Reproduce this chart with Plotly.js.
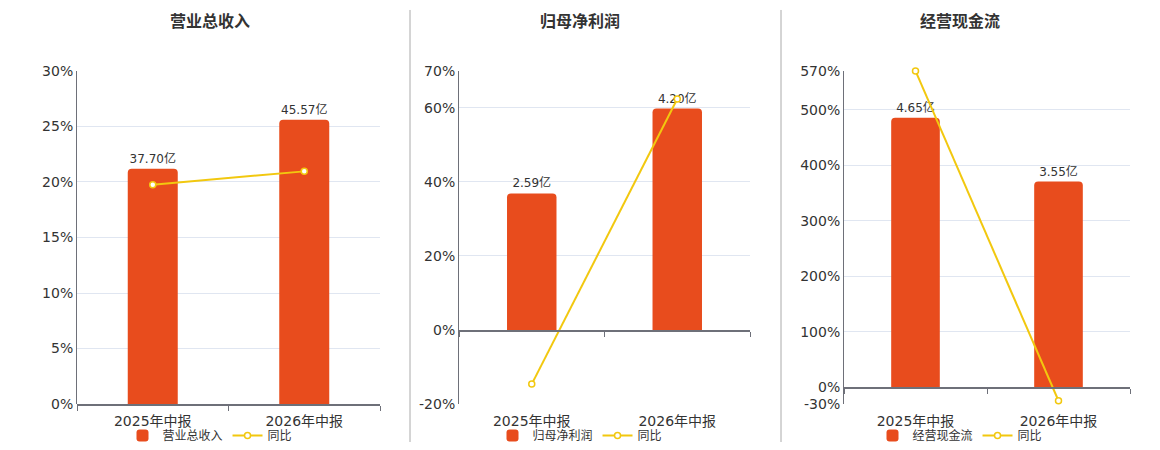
<!DOCTYPE html>
<html>
<head>
<meta charset="utf-8">
<script src="https://cdn.plot.ly/plotly-3.0.1.min.js"></script>
<style>
    html, body { margin: 0; padding: 0; background: #fff; }
    #chart { width: 1160px; height: 450px; }
</style>
</head>
<body>
<div id="chart"></div>
<script>
// ==== DATA ==================================================================

// Categories (report periods).
const categories = ["2025年中报", "2026年中报"];

// Amounts in 亿 and year-on-year change in %.
const revenue = [37.70, 45.57];
const revenueYoy = [19.75, 20.95];
const profit = [2.59, 4.20];
const profitYoy = [-14.6, 62.4];
const cashflow = [4.65, 3.55];
const cashflowYoy = [569.8, -24.0];

// Percent-axis tick values for each panel.
const revenueTicks = [0, 5, 10, 15, 20, 25, 30];
const profitTicks = [-20, 0, 20, 40, 60, 70];
const cashflowTicks = [-30, 0, 100, 200, 300, 400, 500, 570];

const titles = ["营业总收入", "归母净利润", "经营现金流"];
const yoyName = "同比";
const unit = "亿";

// ==== STYLE =================================================================

const W = 1160, H = 450;
const FONT = "DejaVu Sans, Noto Sans CJK SC, sans-serif";
const BAR_COLOR = "#e84c1d";
const LINE_COLOR = "#f2c80f";
const AXIS_COLOR = "#6e7079";
const GRID_COLOR = "#e0e6f1";
const TEXT_COLOR = "#333";

// Plot area, in pixels of the window.
const plotTop = 71, plotBottom = 405;
const yDomain = [1 - plotBottom / H, 1 - plotTop / H];

// Per panel: data, ticks, pixel span of the plot, centre of title/legend,
// and the bar-axis value that sits at the top of the plot.
const panels = [
    { title: titles[0], bars: revenue, yoy: revenueYoy, ticks: revenueTicks,
      span: [77, 380], centre: 210, barTop: 53.4, barWidth: 0.33 },
    { title: titles[1], bars: profit, yoy: profitYoy, ticks: profitTicks,
      span: [459, 750], centre: 580, barTop: 4.916, barWidth: 0.34 },
    { title: titles[2], bars: cashflow, yoy: cashflowYoy, ticks: cashflowTicks,
      span: [844, 1130], centre: 960, barTop: 5.459, barWidth: 0.34 },
];

// Axis ids: "x", "x2" ... and the layout keys "xaxis", "xaxis2" ...
const axisId = (letter, n) => (n === 1 ? letter : letter + n);
const axisKey = (letter, n) => letter + "axis" + (n === 1 ? "" : n);

// ==== BUILD =================================================================

const traces = [];
const layout = {
    width: W,
    height: H,
    margin: { l: 0, r: 0, t: 0, b: 0 },
    paper_bgcolor: "#fff",
    plot_bgcolor: "rgba(0,0,0,0)",
    font: { family: FONT, color: TEXT_COLOR },
    showlegend: true,
    annotations: [],
    shapes: [],
};

panels.forEach((p, i) => {
    const n = i + 1;
    const xId = axisId("x", n);
    // Extra x axis (line + boundary ticks) drawn at the zero of the panel.
    const zeroX = n + 3;
    const barY = 2 * i + 1;
    const pctY = 2 * i + 2;
    const legendId = axisId("legend", n);

    const pMin = p.ticks[0];
    const pMax = p.ticks[p.ticks.length - 1];
    // Bar axis shares the zero with the percent axis.
    const k = p.barTop / pMax;
    const barRange = [pMin * k, pMax * k];

    // Where zero lies, as paper fraction.
    const zeroFrac = (0 - pMin) / (pMax - pMin);

    traces.push({
        type: "bar",
        name: p.title,
        x: categories,
        y: p.bars,
        text: p.bars.map((v) => v.toFixed(2) + unit),
        textposition: "outside",
        textfont: { size: 12, color: TEXT_COLOR, family: FONT },
        cliponaxis: false,
        width: p.barWidth,
        marker: { color: BAR_COLOR, cornerradius: 4 },
        xaxis: xId,
        yaxis: axisId("y", barY),
        legend: legendId,
        hoverinfo: "skip",
    });

    traces.push({
        type: "scatter",
        mode: "lines+markers",
        name: yoyName,
        x: categories,
        y: p.yoy,
        line: { color: LINE_COLOR, width: 2 },
        marker: { symbol: "circle", size: 6, color: "#fff",
                  line: { color: LINE_COLOR, width: 1.5 } },
        cliponaxis: false,
        xaxis: xId,
        yaxis: axisId("y", pctY),
        legend: legendId,
        hoverinfo: "skip",
    });

    // Empty trace so that the zero-line axis gets its own subplot.
    traces.push({
        type: "scatter",
        x: [],
        y: [],
        xaxis: axisId("x", zeroX),
        yaxis: axisId("y", barY),
        showlegend: false,
        hoverinfo: "skip",
    });

    // Category axis with the labels, at the bottom of the plot.
    layout[axisKey("x", n)] = {
        domain: [p.span[0] / W, p.span[1] / W],
        anchor: "free",
        position: yDomain[0] - 7 / H,
        type: "category",
        range: [-0.5, 1.5],
        showline: false,
        ticks: "",
        tickfont: { size: 14, color: TEXT_COLOR },
        showgrid: false,
        zeroline: false,
        fixedrange: true,
    };

    // Axis line and boundary ticks, on the zero of the percent axis.
    layout[axisKey("x", zeroX)] = {
        overlaying: xId,
        anchor: "free",
        position: yDomain[0] + zeroFrac * (yDomain[1] - yDomain[0]),
        type: "linear",
        range: [-0.5, 1.5],
        tickvals: [-0.5, 0.5, 1.5],
        showticklabels: false,
        showline: true,
        linecolor: AXIS_COLOR,
        linewidth: 1.5,
        ticks: "outside",
        ticklen: 5,
        tickcolor: AXIS_COLOR,
        showgrid: false,
        zeroline: false,
        fixedrange: true,
    };

    layout[axisKey("y", barY)] = {
        domain: yDomain,
        anchor: xId,
        range: barRange,
        visible: false,
        fixedrange: true,
    };

    layout[axisKey("y", pctY)] = {
        anchor: xId,
        overlaying: axisId("y", barY),
        side: "left",
        range: [pMin, pMax],
        tickvals: p.ticks,
        ticktext: p.ticks.map((v) => v + "%"),
        tickfont: { size: 14, color: TEXT_COLOR },
        ticks: "",
        showgrid: true,
        gridcolor: GRID_COLOR,
        gridwidth: 1,
        zeroline: false,
        showline: true,
        linecolor: AXIS_COLOR,
        linewidth: 1,
        fixedrange: true,
    };

    layout[legendId] = {
        orientation: "h",
        x: p.centre / W,
        xanchor: "center",
        y: 1 - 436 / H,
        yanchor: "middle",
        font: { size: 12, color: TEXT_COLOR, family: FONT },
        bgcolor: "rgba(0,0,0,0)",
        itemwidth: 30,
        tracegroupgap: 0,
    };

    layout.annotations.push({
        text: p.title,
        xref: "paper",
        yref: "paper",
        x: p.centre / W,
        y: 1 - 22 / H,
        xanchor: "center",
        yanchor: "middle",
        showarrow: false,
        font: { size: 16, color: TEXT_COLOR, family: FONT, weight: "bold" },
    });
});

// Vertical separators between the panels.
[410, 781].forEach((px) => {
    layout.shapes.push({
        type: "line",
        xref: "paper",
        yref: "paper",
        x0: px / W, x1: px / W,
        y0: 1 - 10 / H, y1: 1 - 443 / H,
        line: { color: "#aaa", width: 1 },
    });
});

Plotly.newPlot("chart", traces, layout, { staticPlot: true, displayModeBar: false });
</script>
</body>
</html>
